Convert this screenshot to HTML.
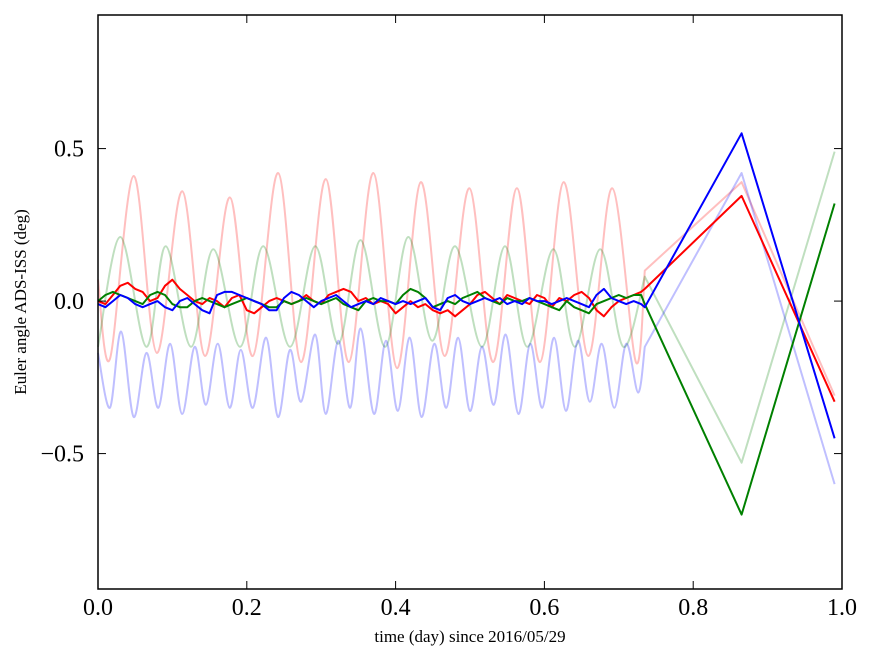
<!DOCTYPE html>
<html><head><meta charset="utf-8"><style>
body{margin:0;background:#fff}
svg text{font-family:"Liberation Serif",serif}
</style></head><body>
<svg id="chart" width="875" height="662" viewBox="0 0 875 662" xmlns="http://www.w3.org/2000/svg">
<rect width="875" height="662" fill="#fff"/>
<g id="series"></g>
<rect x="98" y="15" width="744" height="574" fill="none" stroke="#000" stroke-width="1.5"/>
<g id="ticks"></g>
<text x="470" y="642" font-size="17" text-anchor="middle">time (day) since 2016/05/29</text>
<text transform="translate(26,302) rotate(-90)" font-size="17" text-anchor="middle">Euler angle ADS-ISS (deg)</text>
</svg>
<script>
const xTicks=[0,0.2,0.4,0.6,0.8,1.0];
const xTickLabels=["0.0","0.2","0.4","0.6","0.8","1.0"];
const yTicks=[0.5,0,-0.5];
const yTickLabels=["0.5","0.0","\u22120.5"];
const pinkT=[0,.016,.048,.079,.113,.144,.177,.208,.242,.273,.306,.337,.370,.402,.434,.466,.499,.531,.563,.594,.626,.659,.691,.723,.735,.865,.99];
const pinkV=[0.07,-0.19,0.41,-0.17,0.36,-0.18,0.34,-0.18,0.42,-0.2,0.40,-0.2,0.42,-0.22,0.39,-0.18,0.37,-0.2,0.37,-0.2,0.39,-0.18,0.37,-0.2,0.1,0.39,-0.31];
const lgreenT=[0,.030,.065,.091,.125,.155,.191,.222,.258,.292,.323,.353,.386,.417,.449,.480,.516,.547,.577,.612,.641,.675,.706,.735,.865,.99];
const lgreenV=[-0.15,0.21,-0.15,0.18,-0.15,0.17,-0.15,0.18,-0.15,0.18,-0.14,0.2,-0.15,0.21,-0.13,0.18,-0.15,0.18,-0.15,0.17,-0.15,0.17,-0.15,0.08,-0.53,0.49];
const lblueT=[0,.016,.031,.048,.065,.081,.097,.113,.130,.145,.161,.177,.192,.208,.226,.242,.258,.273,.292,.306,.323,.339,.353,.371,.387,.403,.419,.435,.452,.468,.484,.500,.516,.532,.548,.565,.581,.597,.613,.629,.645,.661,.677,.694,.710,.726,.735,.865,.99];
const lblueV=[-0.17,-0.35,-0.10,-0.38,-0.17,-0.35,-0.14,-0.37,-0.15,-0.34,-0.14,-0.35,-0.16,-0.35,-0.12,-0.38,-0.16,-0.33,-0.11,-0.37,-0.13,-0.35,-0.09,-0.37,-0.13,-0.36,-0.12,-0.38,-0.14,-0.35,-0.12,-0.36,-0.15,-0.34,-0.11,-0.37,-0.14,-0.35,-0.12,-0.36,-0.13,-0.33,-0.14,-0.35,-0.14,-0.30,-0.15,0.42,-0.6];
const redV=[0,-0.01,0.02,0.05,0.06,0.04,0.03,0.0,0.01,0.05,0.07,0.04,0.02,0.0,-0.01,0.01,0.0,-0.02,0.01,0.02,-0.03,-0.04,-0.02,0.0,0.01,0.0,-0.01,0.0,0.02,0.0,-0.01,0.02,0.03,0.04,0.03,0.0,0.01,-0.01,0.0,-0.01,-0.04,-0.02,0.0,-0.02,-0.01,-0.03,-0.04,-0.03,-0.05,-0.03,-0.01,0.02,0.03,0.01,-0.01,0.02,0.01,0.0,-0.01,0.02,0.01,-0.02,0.01,0.0,0.02,0.03,0.01,-0.03,-0.05,-0.02,0.0,0.01,0.02,0.03];
const redTailT=[.735,.865,.99];
const redTailV=[0.04,0.345,-0.33];
const greenV=[0,0.02,0.03,0.02,0.01,0.0,-0.01,0.02,0.03,0.02,-0.01,-0.02,-0.02,0.0,0.01,0.0,-0.01,-0.02,-0.01,0.0,0.01,0.0,-0.01,-0.02,-0.02,0.0,-0.01,0.0,0.01,0.0,-0.01,0.0,0.01,-0.01,-0.02,-0.03,0.0,0.01,0.0,0.0,-0.01,0.02,0.04,0.03,0.01,-0.02,-0.01,0.0,-0.01,0.01,0.02,0.03,0.01,0.0,-0.01,0.01,0.0,0.0,0.01,0.0,-0.01,-0.02,-0.03,0.0,-0.02,-0.03,-0.04,-0.01,0.0,0.01,0.02,0.01,0.02,0.02];
const greenTailT=[.735,.865,.99];
const greenTailV=[-0.01,-0.70,0.32];
const blueV=[-0.01,-0.02,0.0,0.02,0.01,-0.01,-0.02,-0.01,0.0,-0.02,-0.03,0.0,0.01,-0.01,-0.03,-0.04,0.02,0.03,0.03,0.02,0.01,0.0,-0.01,-0.03,-0.03,0.01,0.03,0.02,0.0,-0.02,0.0,0.01,0.02,0.0,-0.02,-0.01,0.0,-0.01,0.01,0.0,-0.01,0.0,-0.01,0.0,0.01,-0.02,-0.03,0.01,0.02,0.0,-0.01,0.0,0.01,0.0,0.01,-0.01,0.0,-0.01,0.01,0.0,0.0,-0.01,0.0,0.01,0.0,-0.01,-0.02,0.02,0.04,0.01,0.0,-0.01,0.0,-0.01];
const blueTailT=[.735,.865,.99];
const blueTailV=[-0.02,0.55,-0.45];

const X0=98,X1=842,Y0=589,Y1=15,YMIN=-0.944,YMAX=0.938;
function sx(v){return X0+(v-0)/(1-0)*(X1-X0);}
function sy(v){return Y0-(v-YMIN)/(YMAX-YMIN)*(Y0-Y1);}
const NS="http://www.w3.org/2000/svg";
const g=document.getElementById('series');
function addPath(d,color,op,name){
  const p=document.createElementNS(NS,'path');
  p.setAttribute('d',d);
  p.setAttribute('fill','none');p.setAttribute('stroke',color);p.setAttribute('stroke-width','2');
  p.setAttribute('stroke-opacity',op);p.setAttribute('stroke-linejoin','round');
  
  
  g.appendChild(p);
}
function line(ts,vs,color,op,name){
  const d='M'+ts.map((t,i)=>sx(t).toFixed(1)+','+sy(vs[i]).toFixed(1)).join(' L');
  addPath(d,color,op,name);
}
// smooth through points up to index `smoothEnd`, straight segments afterwards
function smooth(ts,vs,color,op,name,smoothEnd){
  const P=ts.map((t,i)=>[sx(t),sy(vs[i])]);
  let d='M'+P[0][0].toFixed(1)+','+P[0][1].toFixed(1);
  for(let i=0;i<P.length-1;i++){
    if(i>=smoothEnd){d+=' L'+P[i+1][0].toFixed(1)+','+P[i+1][1].toFixed(1);continue;}
    const p0=P[Math.max(0,i-1)],p1=P[i],p2=P[i+1],p3=P[Math.min(smoothEnd,i+2)];
    const k=0.5/3;
    const c1=[p1[0]+(p2[0]-p0[0])*k,p1[1]+(p2[1]-p0[1])*k];
    const c2=[p2[0]-(p3[0]-p1[0])*k,p2[1]-(p3[1]-p1[1])*k];
    d+=' C'+c1[0].toFixed(1)+','+c1[1].toFixed(1)+' '+c2[0].toFixed(1)+','+c2[1].toFixed(1)+' '+p2[0].toFixed(1)+','+p2[1].toFixed(1);
  }
  addPath(d,color,op,name);
}
function withTail(vals,tt,tv){const t=vals.map((v,i)=>i*0.01);return [t.concat(tt),vals.concat(tv)];}
smooth(pinkT,pinkV,'#f00',0.25,'faint-red-line',pinkT.length-3);
smooth(lgreenT,lgreenV,'#008000',0.25,'faint-green-line',lgreenT.length-3);
smooth(lblueT,lblueV,'#00f',0.25,'faint-blue-line',lblueT.length-3);
let r=withTail(redV,redTailT,redTailV);line(r[0],r[1],'#f00',1,'red-line');
let gr=withTail(greenV,greenTailT,greenTailV);line(gr[0],gr[1],'#008000',1,'green-line');
let b=withTail(blueV,blueTailT,blueTailV);line(b[0],b[1],'#00f',1,'blue-line');

const tg=document.getElementById('ticks');
function el(tag,attrs){const e=document.createElementNS(NS,tag);for(const k in attrs)e.setAttribute(k,attrs[k]);tg.appendChild(e);return e;}
xTicks.forEach((v,i)=>{
  const x=sx(v);
  const a=el('line',{x1:x,x2:x,y1:Y0,y2:Y0-8,stroke:'#000'});
  
  
  const c=el('line',{x1:x,x2:x,y1:Y1,y2:Y1+8,stroke:'#000'});
  
  
  const t=el('text',{x:x,y:615,'font-size':24,'text-anchor':'middle'});
  t.textContent=xTickLabels[i];
  
  
});
yTicks.forEach((v,i)=>{
  const y=sy(v);
  const a=el('line',{x1:X0,x2:X0+8,y1:y,y2:y,stroke:'#000'});
  
  
  const c=el('line',{x1:X1,x2:X1-8,y1:y,y2:y,stroke:'#000'});
  
  
  const t=el('text',{x:84,y:y+8,'font-size':24,'text-anchor':'end'});
  t.textContent=yTickLabels[i];
  
  
});
</script>
</body></html>
